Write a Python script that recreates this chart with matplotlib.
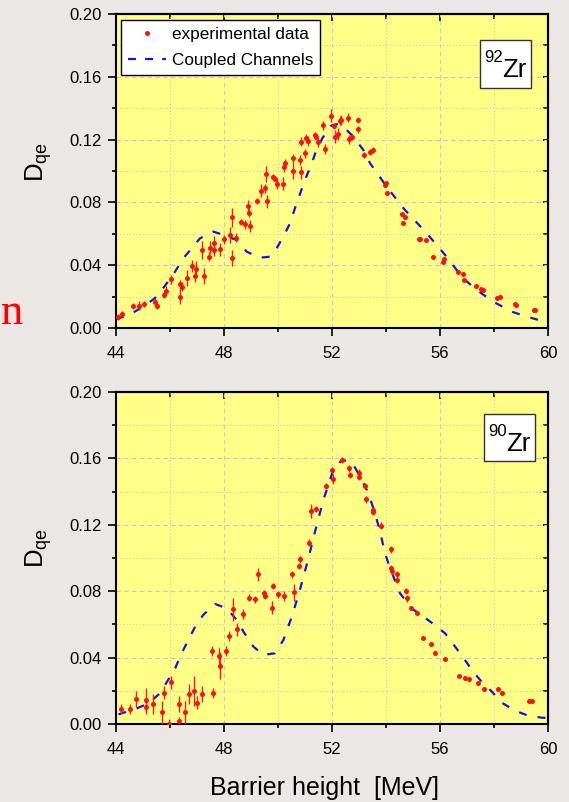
import matplotlib
matplotlib.use("Agg")
import matplotlib.pyplot as plt
from matplotlib.lines import Line2D
from matplotlib.patches import Rectangle
from matplotlib.ticker import MultipleLocator, FormatStrFormatter

plt.rcParams['font.family'] = ['Liberation Sans', 'DejaVu Sans']
plt.rcParams['mathtext.fontset'] = 'custom'
plt.rcParams['mathtext.rm'] = 'Liberation Sans'
plt.rcParams['mathtext.it'] = 'Liberation Sans:italic'

# ---- 92Zr: measured quasi-elastic barrier distribution ----
zr92_x = [44.09, 44.21, 44.64, 44.86, 45.04, 45.44, 45.53, 45.79, 45.84, 46.03,
          46.37, 46.43, 46.38, 46.62, 46.81, 46.91, 46.97, 47.19, 47.27, 47.46,
          47.49, 47.62, 47.64, 47.85, 48.00, 48.22, 48.30, 48.31, 48.44, 48.63,
          48.79, 48.90, 48.91, 48.97, 49.23, 49.38, 49.51, 49.56, 49.60, 49.81,
          49.89, 49.95, 50.19, 50.21, 50.26, 50.54, 50.57, 50.81, 50.85, 50.84,
          51.00, 51.03, 51.12, 51.37, 51.42, 51.48, 51.67, 51.73, 51.95, 52.08,
          52.10, 52.22, 52.28, 52.33, 52.60, 52.62, 52.75, 52.96, 52.97, 53.19,
          53.40, 53.50, 53.96, 53.99, 54.02, 54.59, 54.70, 54.62, 55.23, 55.26,
          55.47, 55.75, 56.12, 56.16, 56.65, 56.84, 56.89, 57.33, 57.52, 57.58,
          58.12, 58.21, 58.77, 58.80, 59.49, 59.53]
zr92_y = [0.0072, 0.0087, 0.0140, 0.0142, 0.0153, 0.0168, 0.0142, 0.0210, 0.0238, 0.0310,
          0.0278, 0.0263, 0.0200, 0.0318, 0.0395, 0.0330, 0.0378, 0.0497, 0.0333, 0.0454,
          0.0511, 0.0543, 0.0497, 0.0501, 0.0565, 0.0592, 0.0705, 0.0446, 0.0575, 0.0677,
          0.0660, 0.0777, 0.0735, 0.0650, 0.0809, 0.0875, 0.0890, 0.0980, 0.0807, 0.0962,
          0.0949, 0.0917, 0.0919, 0.1023, 0.1049, 0.1080, 0.1002, 0.1070, 0.0992, 0.1187,
          0.1113, 0.1208, 0.1191, 0.1230, 0.1215, 0.1183, 0.1290, 0.1140, 0.1352, 0.1287,
          0.1219, 0.1236, 0.1320, 0.1325, 0.1340, 0.1202, 0.1215, 0.1325, 0.1265, 0.1100,
          0.1123, 0.1134, 0.0911, 0.0925, 0.0858, 0.0726, 0.0705, 0.0671, 0.0569, 0.0565,
          0.0558, 0.0454, 0.0422, 0.0440, 0.0359, 0.0342, 0.0306, 0.0270, 0.0248, 0.0240,
          0.0191, 0.0200, 0.0151, 0.0145, 0.0113, 0.0117]
zr92_err = [0.002, 0.002, 0.002, 0.003, 0.002, 0.002, 0.002, 0.002, 0.003, 0.003,
            0.003, 0.003, 0.005, 0.005, 0.004, 0.004, 0.005, 0.006, 0.005, 0.003,
            0.004, 0.004, 0.004, 0.004, 0.003, 0.005, 0.006, 0.005, 0.003, 0.002,
            0.003, 0.004, 0.003, 0.004, 0.002, 0.004, 0.003, 0.005, 0.004, 0.002,
            0.002, 0.003, 0.004, 0.003, 0.003, 0.003, 0.005, 0.003, 0.004, 0.003,
            0.003, 0.003, 0.003, 0.002, 0.002, 0.003, 0.003, 0.003, 0.004, 0.002,
            0.004, 0.004, 0.003, 0.003, 0.003, 0.003, 0.002, 0.002, 0.002, 0.002,
            0.002, 0.002, 0.001, 0.001, 0.001, 0.001, 0.001, 0.001, 0.001, 0.001,
            0.001, 0.001, 0.001, 0.001, 0.001, 0.001, 0.001, 0.001, 0.001, 0.001,
            0.001, 0.001, 0.001, 0.001, 0.001, 0.001]

# ---- 92Zr: coupled-channels calculation ----
cc92_x = [44.00, 44.52, 45.07, 45.44, 45.81, 46.19, 46.49, 46.86, 47.11, 47.60,
          48.00, 48.47, 48.84, 49.33, 49.70, 49.95, 50.20, 50.44, 50.69, 51.00,
          51.25, 51.40, 51.64, 51.95, 52.05, 52.25, 52.42, 52.79, 53.16, 53.41,
          53.72, 54.02, 54.70, 55.51, 56.19, 56.86, 57.36, 57.97, 58.66, 59.21,
          59.77, 60.00]
cc92_y = [0.0055, 0.0087, 0.0142, 0.0190, 0.0268, 0.0359, 0.0444, 0.0518, 0.0571, 0.0614,
          0.0592, 0.0560, 0.0486, 0.0448, 0.0454, 0.0508, 0.0582, 0.0666, 0.0794, 0.0943,
          0.1049, 0.1123, 0.1208, 0.1287, 0.1293, 0.1300, 0.1282, 0.1219, 0.1134, 0.1049,
          0.0975, 0.0900, 0.0752, 0.0603, 0.0465, 0.0316, 0.0242, 0.0168, 0.0104, 0.0072,
          0.0046, 0.0040]

# ---- 90Zr: measured quasi-elastic barrier distribution ----
zr90_x = [44.19, 44.52, 44.74, 45.11, 45.12, 45.36, 45.70, 45.78, 45.96, 46.04,
          46.32, 46.34, 46.57, 46.70, 46.88, 47.00, 47.20, 47.59, 47.56, 47.81,
          47.86, 48.06, 48.19, 48.35, 48.47, 48.69, 48.93, 49.14, 49.25, 49.48,
          49.53, 49.77, 49.81, 50.01, 50.23, 50.53, 50.59, 50.79, 50.83, 51.16,
          51.21, 51.41, 51.78, 52.00, 52.02, 52.36, 52.63, 52.67, 53.00, 53.01,
          53.22, 53.25, 53.50, 53.53, 53.81, 54.17, 54.20, 54.22, 54.42, 54.40,
          54.74, 54.77, 54.93, 55.15, 55.38, 55.65, 55.83, 56.19, 56.70, 56.93,
          57.07, 57.41, 57.63, 58.14, 58.28, 59.30, 59.41]
zr90_y = [0.0090, 0.0090, 0.0151, 0.0145, 0.0100, 0.0120, 0.0070, 0.0189, 0.0000, 0.0251,
          0.0120, 0.0020, 0.0070, 0.0181, 0.0199, 0.0128, 0.0181, 0.0189, 0.0442, 0.0410,
          0.0351, 0.0442, 0.0530, 0.0690, 0.0570, 0.0660, 0.0761, 0.0751, 0.0902, 0.0787,
          0.0773, 0.0701, 0.0831, 0.0781, 0.0771, 0.0902, 0.0793, 0.0952, 0.0992, 0.1092,
          0.1283, 0.1295, 0.1434, 0.1530, 0.1478, 0.1590, 0.1540, 0.1500, 0.1514, 0.1490,
          0.1434, 0.1354, 0.1290, 0.1280, 0.1195, 0.1052, 0.0938, 0.0920, 0.0902, 0.0867,
          0.0801, 0.0757, 0.0697, 0.0670, 0.0520, 0.0480, 0.0430, 0.0390, 0.0289, 0.0279,
          0.0269, 0.0249, 0.0209, 0.0211, 0.0189, 0.0140, 0.0140]
zr90_err = [0.003, 0.003, 0.005, 0.007, 0.004, 0.006, 0.007, 0.004, 0.003, 0.004,
            0.005, 0.002, 0.007, 0.006, 0.009, 0.004, 0.005, 0.003, 0.003, 0.005,
            0.008, 0.003, 0.003, 0.007, 0.004, 0.003, 0.002, 0.002, 0.004, 0.002,
            0.002, 0.004, 0.002, 0.002, 0.003, 0.002, 0.005, 0.002, 0.002, 0.002,
            0.004, 0.002, 0.002, 0.002, 0.003, 0.002, 0.002, 0.002, 0.002, 0.002,
            0.002, 0.002, 0.002, 0.002, 0.002, 0.002, 0.002, 0.002, 0.002, 0.002,
            0.002, 0.002, 0.001, 0.001, 0.001, 0.001, 0.001, 0.001, 0.001, 0.001,
            0.001, 0.001, 0.001, 0.001, 0.001, 0.001, 0.001]

# ---- 90Zr: coupled-channels calculation ----
cc90_x = [44.09, 44.77, 45.20, 45.63, 46.19, 46.43, 46.93, 47.23, 47.67, 48.10,
          48.47, 48.72, 49.09, 49.46, 49.89, 50.20, 50.51, 50.81, 51.06, 51.25,
          51.37, 51.68, 52.05, 52.36, 52.73, 53.04, 53.35, 53.59, 53.78, 53.96,
          54.15, 54.52, 54.95, 55.38, 55.81, 56.19, 56.56, 56.86, 57.23, 57.54,
          57.92, 58.28, 58.78, 59.27, 59.77, 60.00]
cc90_y = [0.0058, 0.0094, 0.0124, 0.0185, 0.0335, 0.0426, 0.0586, 0.0657, 0.0723, 0.0697,
          0.0627, 0.0556, 0.0466, 0.0416, 0.0426, 0.0506, 0.0646, 0.0807, 0.0958, 0.1078,
          0.1158, 0.1350, 0.1530, 0.1590, 0.1580, 0.1490, 0.1390, 0.1270, 0.1160, 0.1030,
          0.0940, 0.0787, 0.0697, 0.0647, 0.0596, 0.0546, 0.0466, 0.0400, 0.0315, 0.0255,
          0.0195, 0.0129, 0.0080, 0.0050, 0.0038, 0.0036]

x_ticks = [44, 48, 52, 56, 60]
y_ticks = [0.00, 0.04, 0.08, 0.12, 0.16, 0.20]

BG = '#ebe7e4'
FACE = '#ffff88'
RED = '#ff1010'
BLUE = '#1414e6'

fig = plt.figure(figsize=(5.69, 8.02), dpi=100, facecolor=BG)

W, H = 569.0, 802.0


def px_axes(left, top, right, bottom):
    return [left / W, 1 - bottom / H, (right - left) / W, (bottom - top) / H]


ax1 = fig.add_axes(px_axes(116, 14, 548, 328))
ax2 = fig.add_axes(px_axes(116, 392, 548, 724))


def style(ax):
    ax.set_facecolor(FACE)
    ax.set_xlim(44, 60)
    ax.set_ylim(0, 0.20)
    ax.xaxis.set_major_locator(MultipleLocator(4))
    ax.xaxis.set_minor_locator(MultipleLocator(2))
    ax.yaxis.set_major_locator(MultipleLocator(0.04))
    ax.yaxis.set_minor_locator(MultipleLocator(0.02))
    ax.set_xticks(x_ticks)
    ax.set_yticks(y_ticks)
    ax.yaxis.set_major_formatter(FormatStrFormatter('%.2f'))
    for s in ax.spines.values():
        s.set_linewidth(1.5)
        s.set_color('black')
    ax.tick_params(which='both', direction='out', top=False, right=False,
                   width=1.2, labelsize=12, colors='black')
    ax.tick_params(which='major', length=5.8, pad=4.2)
    ax.tick_params(which='minor', length=2.9)
    ax.tick_params(axis='x', which='major', pad=7.0)
    ax.xaxis.grid(True, which='major', color='#c8c8c8', linestyle=(0, (4, 3)), linewidth=0.8)
    ax.xaxis.grid(True, which='minor', color='#c8c8c8', linestyle=(0, (1, 2)), linewidth=0.8)
    ax.yaxis.grid(True, which='major', color='#c4c4e2', linestyle=(0, (4, 3)), linewidth=0.8)
    ax.yaxis.grid(True, which='minor', color='#c8c8c8', linestyle=(0, (1, 2)), linewidth=0.8)
    ax.set_axisbelow(True)
    # inward ticks on the opposite frame sides
    top = ax.secondary_xaxis('top')
    top.set_xticks(x_ticks)
    top.xaxis.set_minor_locator(MultipleLocator(2))
    top.tick_params(which='both', direction='in', labeltop=False, width=1.2)
    top.tick_params(which='major', length=5.0)
    top.tick_params(which='minor', length=3.6)
    top.spines['top'].set_linewidth(1.5)
    right = ax.secondary_yaxis('right')
    right.set_yticks(y_ticks)
    right.yaxis.set_minor_locator(MultipleLocator(0.02))
    right.tick_params(which='both', direction='in', labelright=False, width=1.2)
    right.tick_params(which='major', length=3.6)
    right.tick_params(which='minor', length=3.6)
    right.spines['right'].set_linewidth(1.5)


def draw(ax, cx, cy, x, y, e):
    ax.plot(cx, cy, color=BLUE, linewidth=1.6, dashes=(3.6, 5.0), zorder=2, clip_on=True)
    ax.errorbar(x, y, yerr=e, fmt='o', color=RED, ecolor='#f02020', ms=3.6,
                mew=0, elinewidth=1.0, capsize=1.6, capthick=1.0, zorder=3, clip_on=True)


def label_box(ax, x0, y0, x1, y1, mass, mx, my, zx, zy):
    ax.add_patch(Rectangle((x0, y0), x1 - x0, y1 - y0, transform=ax.transAxes,
                           facecolor='white', edgecolor='#333333', linewidth=1.0, zorder=5))
    ax.text(mx, my, mass, transform=ax.transAxes, fontsize=12, ha='left',
            va='baseline', zorder=6)
    ax.text(zx, zy, 'Zr', transform=ax.transAxes, fontsize=18.5, ha='left',
            va='baseline', zorder=6)


for ax in (ax1, ax2):
    style(ax)

draw(ax1, cc92_x, cc92_y, zr92_x, zr92_y, zr92_err)
draw(ax2, cc90_x, cc90_y, zr90_x, zr90_y, zr90_err)

label_box(ax1, 0.8426, 0.7643, 0.9606, 0.9172, '92', 0.8519, 0.8481, 0.8947, 0.8003)
label_box(ax2, 0.8519, 0.7922, 0.9699, 0.9337, '90', 0.8611, 0.8684, 0.9039, 0.8232)

handles = [Line2D([], [], marker='o', linestyle='none', color=RED, ms=3.6, mew=0),
           Line2D([], [], color=BLUE, linewidth=1.6, dashes=(3.6, 4.1))]
leg = ax1.legend(handles, ['experimental data', 'Coupled Channels'],
                 loc='upper left', bbox_to_anchor=(0.0116, 0.981),
                 borderaxespad=0, fontsize=12.3, frameon=True, fancybox=False,
                 framealpha=1, edgecolor='black', borderpad=0.42,
                 handlelength=2.2, handletextpad=0.35, labelspacing=0.62,
                 numpoints=1)
leg.get_frame().set_linewidth(1.0)
leg.set_zorder(10)

ylab = r'$\mathrm{D}_{\mathrm{qe}}$'
fig.text(39 / W, 1 - 162 / H, ylab, rotation=90, ha='center', va='center', fontsize=18.5)
fig.text(39 / W, 1 - 548 / H, ylab, rotation=90, ha='center', va='center', fontsize=18.5)

fig.text(324.5 / W, 1 - 795 / H, 'Barrier height  [MeV]', ha='center',
         va='baseline', fontsize=18)

# red glyph in the left margin
fig.text(1 / W, 1 - 324 / H, 'n', color='#ff0000', fontsize=32,
         family='Liberation Serif', ha='left', va='baseline')

fig.savefig('out.png', dpi=100, facecolor=BG)
